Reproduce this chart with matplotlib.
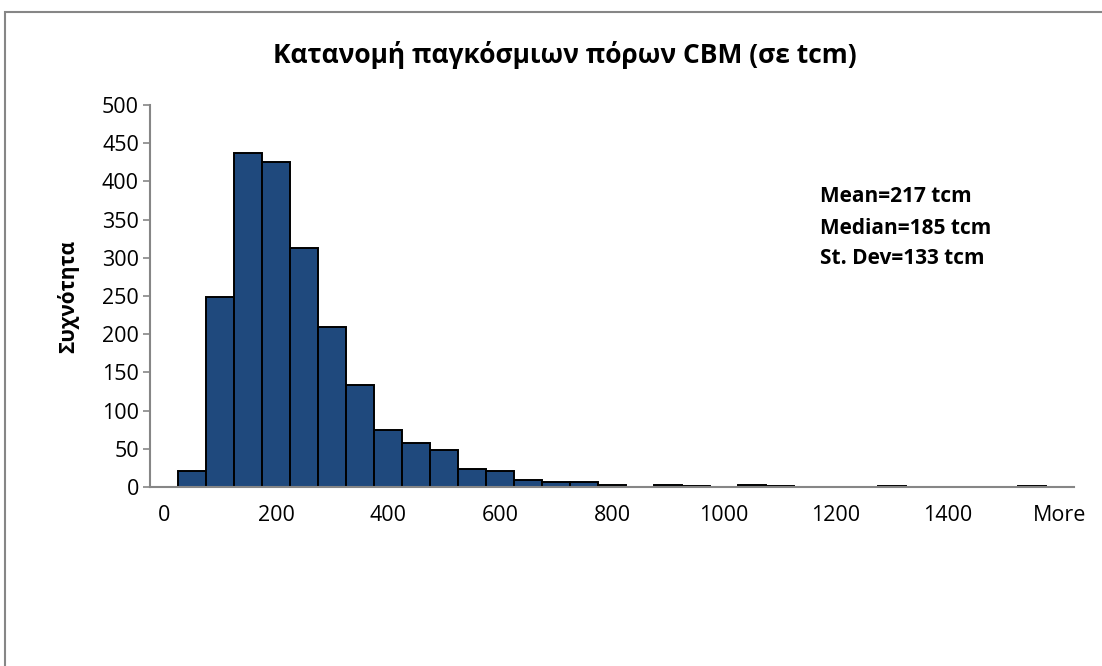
import matplotlib
matplotlib.use('Agg')
import matplotlib.pyplot as plt
from matplotlib.patches import Rectangle

plt.rcParams['font.family'] = ['Open Sans', 'DejaVu Sans']

# bins (upper edges, step 50) and counts
bins = [str(b) for b in range(0, 1600, 50)] + ['More']
counts = [0, 21, 249, 437, 426, 313, 210, 133, 75, 58, 49, 24, 21, 9, 7, 6,
          2, 0, 2, 1, 0, 2, 1, 0, 0, 0, 1, 0, 0, 0, 0, 1, 0]
stats_lines = ['Mean=217 tcm', 'Median=185 tcm', 'St. Dev=133 tcm']

title = 'Κατανομή παγκόσμιων πόρων CBM (σε tcm)'
ylabel = 'Συχνότητα'

fig = plt.figure(figsize=(11.02, 6.66), dpi=100)
ax = fig.add_axes([150 / 1102, 179 / 666, 924 / 1102, 382 / 666])

x = list(range(len(bins)))
ax.bar(x, counts, width=1.0, color='#1F497D', edgecolor='black', linewidth=1.4)

ax.set_xlim(-0.5, len(bins) - 0.5)
ax.set_ylim(0, 500)
ax.set_yticks(range(0, 501, 50))
ax.set_xticks(x[::4])
ax.set_xticklabels(bins[::4])

for s in ['top', 'right']:
    ax.spines[s].set_visible(False)
for s in ['left', 'bottom']:
    ax.spines[s].set_color('#868686')
    ax.spines[s].set_linewidth(1.5)
ax.tick_params(axis='y', length=5, width=1.2, color='#868686', labelsize=15.5, pad=3)
ax.tick_params(axis='x', length=0, labelsize=15.5, pad=13)

ax.set_ylabel(ylabel, fontsize=15, fontweight='bold', labelpad=16)
fig.text(565 / 1102, 1 - 55 / 666, title, ha='center', va='center',
         fontsize=19, fontweight='bold')

for i, line in enumerate(stats_lines):
    fig.text(820 / 1102, 1 - (197 + 31 * i) / 666, line, ha='left', va='center',
             fontsize=15, fontweight='bold')

# chart frame (only top and left edges fall inside the image)
fig.patches.append(Rectangle((5 / 1102, -0.1), 1.2, 1.1 - 12 / 666,
                             transform=fig.transFigure, fill=False,
                             edgecolor='#868686', linewidth=1.5))

fig.savefig('out.png', dpi=100)
